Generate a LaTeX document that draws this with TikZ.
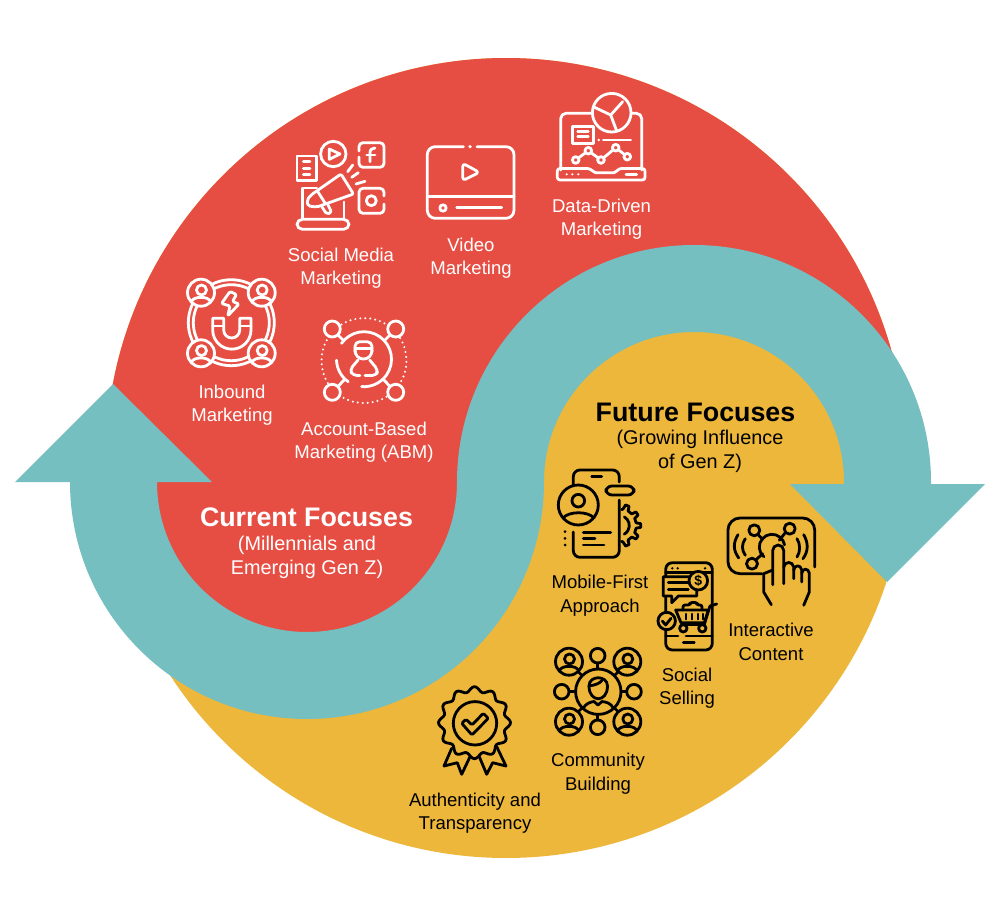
\documentclass[tikz,border=0pt]{standalone}
\usepackage{fontspec}
\setmainfont{Liberation Sans}
\definecolor{redfill}{RGB}{230,78,68}
\definecolor{tealfill}{RGB}{117,191,192}
\definecolor{yellowfill}{RGB}{236,183,59}
\tikzset{
  whiteline/.style={draw=white,line width=2.1pt,line cap=round,line join=round},
  blackline/.style={draw=black,line width=2.1pt,line cap=round,line join=round},
  whitetext/.style={text=white,align=center,inner sep=0.75pt,font=\fontsize{13.9}{17.4}\selectfont},
  blacktext/.style={text=black,align=center,inner sep=0.75pt,font=\fontsize{13.9}{17.6}\selectfont},
  subtext/.style={align=center,inner sep=0.75pt,font=\fontsize{14.9}{18}\selectfont},
  titletext/.style={align=center,inner sep=0.75pt,font=\bfseries\fontsize{20.1}{23}\selectfont},
}
\newcommand{\personring}[4]{%
  \draw[#3,fill=#4] (#1,#2) circle (13.5);
  \draw[#3] (#1+0.5,#2-2.7) circle (5);
  \draw[#3] (#1-9.5,#2+9.5) .. controls (#1-9,#2+3) and (#1+9,#2+3) .. (#1+9.5,#2+9.5);
}
\begin{document}
\begin{tikzpicture}[x=0.75pt,y=0.75pt,yscale=-1,xscale=1]
\useasboundingbox (0,0) rectangle (1001,917);

%Shape: Circle
\fill[yellowfill] (506,458) circle (400);
%Shape: Red upper part
\begin{scope}
\clip (506,458) circle (400);
\fill[redfill] (887.5,482) arc (0:-180:193.5) arc (0:180:193.5) -- (0,482) -- (0,0) -- (1001,0) -- (1001,482) -- cycle;
\end{scope}
%Shape: Band with two arrow heads
\fill[tealfill] (70,482) arc (180:0:237) arc (180:360:150) -- (844,484) -- (790,484) -- (887,582) -- (985,484) -- (931,484) -- (931,482) arc (0:-180:237) arc (0:180:150) -- (212,482) -- (113,384) -- (15,482) -- cycle;

%Social media icon
\draw[whiteline] (333.3,154) circle (12.7);
\draw[whiteline] (329.3,149) -- (340,154) -- (329.3,159.3) -- cycle;
\draw[whiteline] (297,156) rectangle (316.7,180.7);
\draw[whiteline] (303.3,161.7) -- (310,161.7);
\draw[whiteline] (303.3,168.3) -- (310,168.3);
\draw[whiteline] (303.3,174.7) -- (310,174.7);
\draw[whiteline,rounded corners=3pt] (359,151) -- (359,142.7) -- (384,142.7) -- (384,167.3) -- (359,167.3) -- (359,157);
\draw[whiteline] (370,161.7) -- (370,153) .. controls (370,149.5) and (372,148) .. (375,148);
\draw[whiteline] (366.7,155) -- (375,155);
\draw[whiteline,rounded corners=3pt] (384,196) -- (384,188.3) -- (359,188.3) -- (359,213.3) -- (384,213.3) -- (384,204);
\draw[whiteline] (371.3,200.7) circle (5);
\draw[whiteline] (347.7,171.7) -- (352.7,165);
\draw[whiteline] (351.7,177.3) -- (358.3,172.7);
\draw[whiteline] (356,184) -- (365,181.3);
\draw[whiteline,rounded corners=1.5pt] (341,174) -- (353.5,194) -- (317,207) -- (308,206) -- (307,200) -- (311,195) -- cycle;
\draw[whiteline] (318,192) -- (325,203);
\draw[whiteline,rounded corners=1.5pt] (322,207) -- (327,214.5) -- (331.5,212) -- (328,205);
\draw[whiteline] (316.7,188) -- (302.5,188) -- (302.5,218);
\draw[whiteline] (344,202) -- (344,218);
\draw[whiteline,rounded corners=4pt] (297,219.3) -- (297,229.3) -- (349,229.3) -- (349,219.3) -- cycle;

%Video icon
\draw[whiteline,rounded corners=6pt] (463.5,146.7) -- (427.3,146.7) -- (427.3,218.3) -- (514,218.3) -- (514,146.7) -- (477,146.7);
\fill[white] (470,146.7) circle (1.8);
\draw[whiteline] (427.3,196.7) -- (514,196.7);
\draw[whiteline,rounded corners=2.5pt] (462.7,163.3) -- (479.3,172.3) -- (462.7,180.7) -- cycle;
\draw[whiteline] (443,208) circle (3.2);
\draw[whiteline] (456.7,207.7) -- (501.7,207.7);

%Data icon
\draw[whiteline,rounded corners=4pt] (560.7,170) -- (560.7,113.3) -- (592.7,113.3);
\draw[whiteline,rounded corners=4pt] (631.7,113.3) -- (641.7,113.3) -- (641.7,170);
\draw[whiteline] (611.7,112.7) circle (19.3);
\draw[whiteline] (610.7,115) -- (622.7,101.7);
\draw[whiteline] (610.7,115) -- (593.3,106.7);
\draw[whiteline] (610.7,115) -- (616.7,131);
\draw[whiteline] (572.3,126.7) rectangle (593.3,143.3);
\draw[whiteline] (577.7,131.7) -- (588.3,131.7);
\draw[whiteline] (577.7,136.7) -- (588.3,136.7);
\draw[whiteline] (603.3,140) -- (630.7,140);
\fill[white] (598.7,140) circle (1.4);
\draw[whiteline] (575.7,160) -- (588.3,150.7) -- (601,160) -- (615.7,147.7) -- (627.3,156.7);
\foreach \px/\py in {575.7/160,588.3/150.7,601/160,615.7/147.7,627.3/156.7}
  \draw[whiteline,fill=redfill] (\px,\py) circle (3.3);
\draw[whiteline,rounded corners=2pt] (557.3,168.5) -- (590,168.5) .. controls (594,172.5) and (596,172.7) .. (599,172.7) -- (611,172.7) .. controls (614,172.7) and (616,172) .. (619,168.5) -- (645,168.5) -- (645,180) -- (557.3,180) -- cycle;
\foreach \px in {566.7,572.3,578.3}
  \fill[white] (\px,174.3) circle (1.2);
\draw[whiteline] (626,174.3) -- (636.7,174.3);

%Inbound icon
\draw[whiteline] (231.3,322.7) circle (43);
\draw[whiteline] (231.3,322.7) circle (38);
\draw[whiteline,rounded corners=1pt] (230,291.5) -- (221.5,303.5) -- (230,306) -- (227.7,316) -- (239,304) -- (232.5,301.5) -- (236.5,294.5) -- cycle;
\draw[whiteline] (212.7,318.3) -- (223.7,318.3) -- (223.7,330) arc (180:0:8) -- (239.7,318.3) -- (251,318.3) -- (251,330) arc (0:180:19.15) -- cycle;
\draw[whiteline] (212.7,326) -- (223.7,326);
\draw[whiteline] (239.7,326) -- (251,326);
\personring{201}{292.7}{whiteline}{redfill}
\personring{261.7}{292.7}{whiteline}{redfill}
\personring{201}{353.3}{whiteline}{redfill}
\personring{261.7}{353.3}{whiteline}{redfill}

%Account-based icon
\draw[whiteline] (364,359.2) ++(-145:27.5) arc (-145:95:27.5);
\draw[whiteline] (364,359.2) ++(125:27.5) arc (125:178:27.5);
\draw[whiteline] (332.3,329) circle (8);
\draw[whiteline] (395.7,329) circle (8);
\draw[whiteline] (332.3,392.3) circle (8);
\draw[whiteline] (395.7,392.3) circle (8);
\draw[whiteline] (338,335) -- (344,341);
\draw[whiteline] (390,335) -- (384,341);
\draw[whiteline] (338,386.5) -- (344,380);
\draw[whiteline] (390,386.5) -- (384,380);
\draw[draw=white,line width=1.7pt,line cap=round,dash pattern=on 0pt off 3.75pt] (364,360.6) ++(-122:42.5) arc (-122:-58:42.5);
\draw[draw=white,line width=1.7pt,line cap=round,dash pattern=on 0pt off 3.75pt] (364,360.6) ++(-32:42.5) arc (-32:32:42.5);
\draw[draw=white,line width=1.7pt,line cap=round,dash pattern=on 0pt off 3.75pt] (364,360.6) ++(58:42.5) arc (58:122:42.5);
\draw[draw=white,line width=1.7pt,line cap=round,dash pattern=on 0pt off 3.75pt] (364,360.6) ++(148:42.5) arc (148:212:42.5);
\draw[whiteline,rounded corners=3.5pt] (355,352) -- (355,341.7) -- (372,341.7) -- (372,352);
\draw[whiteline] (355,348.5) -- (372,348.5);
\draw[whiteline] (355,350) .. controls (355,362) and (372,362) .. (372,350);
\draw[whiteline,rounded corners=3pt] (358,360) -- (349.7,370) -- (353,375.5) -- (360,375.5);
\draw[whiteline,rounded corners=3pt] (365,375.5) -- (376.3,375.5) -- (378,370) -- (369.7,360);

%Mobile icon
\draw[blackline,rounded corners=5pt] (573.3,490) -- (573.3,470) -- (619.3,470) -- (619.3,482);
\draw[blackline,rounded corners=5pt] (573.3,532) -- (573.3,557.3) -- (619.3,557.3) -- (619.3,500);
\draw[blackline] (591.7,476.7) -- (601.7,476.7);
\draw[blackline,rounded corners=4.4pt] (606,486) rectangle (634,495);
\draw[blackline,fill=yellowfill] (578.3,505) circle (20);
\draw[blackline] (578.3,500.7) circle (6.3);
\draw[blackline] (563,518) .. controls (569,511) and (588,511) .. (594,518);
\begin{scope}[shift={(619.3,525.5)}]
\draw[blackline] (-82:16) \foreach \a in {-68,-34,0,34,68} { -- (\a-9:17) -- (\a-5:21.5) -- (\a+5:21.5) -- (\a+9:17) } -- (82:16);
\draw[blackline] (-60:10) arc (-60:60:10);
\end{scope}
\draw[blackline] (583.3,532.3) -- (610.7,532.3);
\draw[blackline] (583.3,538.3) -- (595,538.3);
\draw[blackline] (583.3,545) -- (604,545);
\foreach \py in {531.7,538.3,545}
  \fill[black] (565,\py) circle (1.5);

%Social selling icon
\draw[blackline,rounded corners=5pt] (665.7,562.7) rectangle (712.3,650);
\draw[blackline] (665.7,572.7) -- (712.3,572.7);
\draw[blackline] (665.7,636) -- (678,636);
\draw[blackline] (686,636) -- (712.3,636);
\draw[blackline] (683.3,642.7) -- (694.3,642.7);
\foreach \px in {672.3,677.7,705}
  \fill[black] (\px,568.3) circle (1.3);
\draw[blackline,fill=yellowfill] (663.3,576.7) -- (696.7,576.7) -- (696.7,596) -- (678.3,596) -- (671.7,602.7) -- (671.7,596) -- (663.3,596) -- cycle;
\draw[blackline] (668.3,582.7) -- (688.3,582.7);
\draw[blackline] (668.3,589.3) -- (688.3,589.3);
\draw[blackline,fill=yellowfill] (698.3,580.7) circle (9.3);
\draw (698.3,580.7) node (dollar) [inner sep=0pt,font=\bfseries\fontsize{10.5}{11}\selectfont] {\$};
\draw[blackline,fill=yellowfill] (675.7,610) -- (708.3,610) -- (704.3,622.7) -- (681,622.7) -- cycle;
\draw[blackline] (716.7,604) -- (710,606) -- (704.3,624.5) -- (682,624.5);
\foreach \px in {685.7,691.7,697.7,703}
  \draw[blackline,line width=1.7pt] (\px,614) -- (\px,619.3);
\draw[blackline,rounded corners=1.5pt] (683,610) -- (683,605) -- (690,605) -- (690,602.5) -- (697,602.5) -- (697,605) -- (702,605) -- (702,610);
\draw[blackline,fill=yellowfill] (683.3,628.3) circle (3.7);
\draw[blackline,fill=yellowfill] (702.3,628.3) circle (3.7);
\draw[blackline,fill=yellowfill] (666.7,621) circle (8.7);
\draw[blackline] (662.3,621) -- (665.7,625) -- (671,618.3);

%Interactive icon
\draw[blackline,rounded corners=9pt] (762,573.7) -- (728,573.7) -- (728,518) -- (814.7,518) -- (814.7,567);
\draw[blackline] (754.3,530.3) circle (5.5);
\draw[blackline] (789.7,528.7) circle (5.5);
\draw[blackline] (752,563.7) circle (5.5);
\draw[blackline] (772,547) ++(130:12.7) arc (130:350:12.7);
\draw[blackline] (758,534.7) -- (762.7,539.3);
\draw[blackline] (785.3,532.7) -- (779.3,540.3);
\draw[blackline] (755.3,560.3) -- (762.7,553.7);
\draw[blackline] (745.3,538.7) .. controls (741.5,544) and (741.5,550) .. (745.3,555.3);
\draw[blackline] (738,534.7) .. controls (733,543) and (733,550) .. (738.7,558);
\draw[blackline] (797,538.7) .. controls (800.5,544) and (800.5,552) .. (797,557);
\draw[blackline] (803.7,534.7) .. controls (808.5,543) and (808.5,551) .. (803,558.7);
\draw[blackline] (772.7,584.7) -- (772.7,550.5) arc (180:360:5.5) -- (783.7,583.7);
\draw[blackline] (783.7,567) .. controls (784.5,561) and (793,561) .. (793.7,567) -- (793.7,578.7);
\draw[blackline] (793.7,570) .. controls (794.5,564.5) and (801,564.5) .. (801.7,570) -- (801.7,582);
\draw[blackline] (801.7,573) .. controls (802.5,568) and (808.5,568) .. (809.3,573) -- (809.3,592) -- (803.7,605.3);
\draw[blackline] (772,570.3) -- (763.7,573.7) -- (763.7,592) -- (771.3,604.7);

%Community icon
\draw[blackline] (598.3,691.7) circle (22.7);
\personring{569}{661.7}{blackline}{yellowfill}
\personring{627.3}{661.7}{blackline}{yellowfill}
\personring{569}{721.7}{blackline}{yellowfill}
\personring{627.3}{721.7}{blackline}{yellowfill}
\draw[blackline] (597.7,655.7) circle (7.3);
\draw[blackline] (561.7,691.7) circle (7.3);
\draw[blackline] (634,691.7) circle (7.3);
\draw[blackline] (597.7,727.3) circle (7.3);
\draw[blackline] (597.7,663) -- (597.7,669);
\draw[blackline] (569.3,691.7) -- (575.7,691.7);
\draw[blackline] (621,691.7) -- (626.7,691.7);
\draw[blackline] (597.7,714.4) -- (597.7,720);
\draw[blackline] (578.5,672) -- (582,675.5);
\draw[blackline] (618,672) -- (614.5,675.5);
\draw[blackline] (578.5,711.5) -- (582,708);
\draw[blackline] (618,711.5) -- (614.5,708);
\draw[blackline] (589,686) .. controls (589,703) and (607.5,703) .. (607.5,686) .. controls (607.5,675) and (589,675) .. cycle;
\draw[blackline] (589,686) .. controls (596,685) and (600,683) .. (602,680.5);
\draw[blackline] (583,708.5) .. controls (586,703) and (591,702) .. (594,701.5) -- (598,705) -- (602,701.5) .. controls (606,702) and (611,703) .. (613.5,708.5);

%Authenticity icon
\draw[blackline] plot[domain=0:357,samples=120] ({474.5+(33.5+2.5*cos(12*\x))*cos(\x)},{722.7+(33.5+2.5*cos(12*\x))*sin(\x)}) -- cycle;
\draw[blackline] (475,723.3) circle (21.7);
\draw[blackline,rounded corners=1pt] (461.7,723.3) -- (466,719.3) -- (472,725) -- (483.3,713.3) -- (488.3,718.3) -- (472,735) -- cycle;
\draw[blackline] (451.7,748.3) -- (444,766) -- (457.3,762.7) -- (461.7,774.3) -- (470,756.7);
\draw[blackline] (496.7,746.7) -- (506,766) -- (492.7,762.7) -- (486.7,774.3) -- (479.3,756.7);

% Text Node
\draw (341,268) node (socialmedia) [whitetext] {Social Media\\Marketing};
% Text Node
\draw (471,258) node (video) [whitetext] {Video\\Marketing};
% Text Node
\draw (601.5,219) node (datadriven) [whitetext] {Data-Driven\\Marketing};
% Text Node
\draw (232,405) node (inbound) [whitetext] {Inbound\\Marketing};
% Text Node
\draw (364,442) node (abm) [whitetext] {Account-Based\\Marketing (ABM)};
% Text Node
\draw (306.5,517) node (currenttitle) [titletext,text=white] {Current Focuses};
% Text Node
\draw (307,557) node (currentsub) [subtext,text=white] {(Millennials and\\Emerging Gen Z)};
% Text Node
\draw (695.5,412) node (futuretitle) [titletext,text=black] {Future Focuses};
% Text Node
\draw (700,451) node (futuresub) [subtext,text=black] {(Growing Influence\\of Gen Z)};
% Text Node
\draw (600,595.5) node (mobile) [blacktext] {Mobile-First\\Approach};
% Text Node
\draw (687,688) node (selling) [blacktext] {Social\\Selling};
% Text Node
\draw (771,642) node (interactive) [blacktext] {Interactive\\Content};
% Text Node
\draw (598,773.5) node (community) [blacktext] {Community\\Building};
% Text Node
\draw (475,813) node (authenticity) [blacktext] {Authenticity and\\Transparency};

\end{tikzpicture}
\end{document}
